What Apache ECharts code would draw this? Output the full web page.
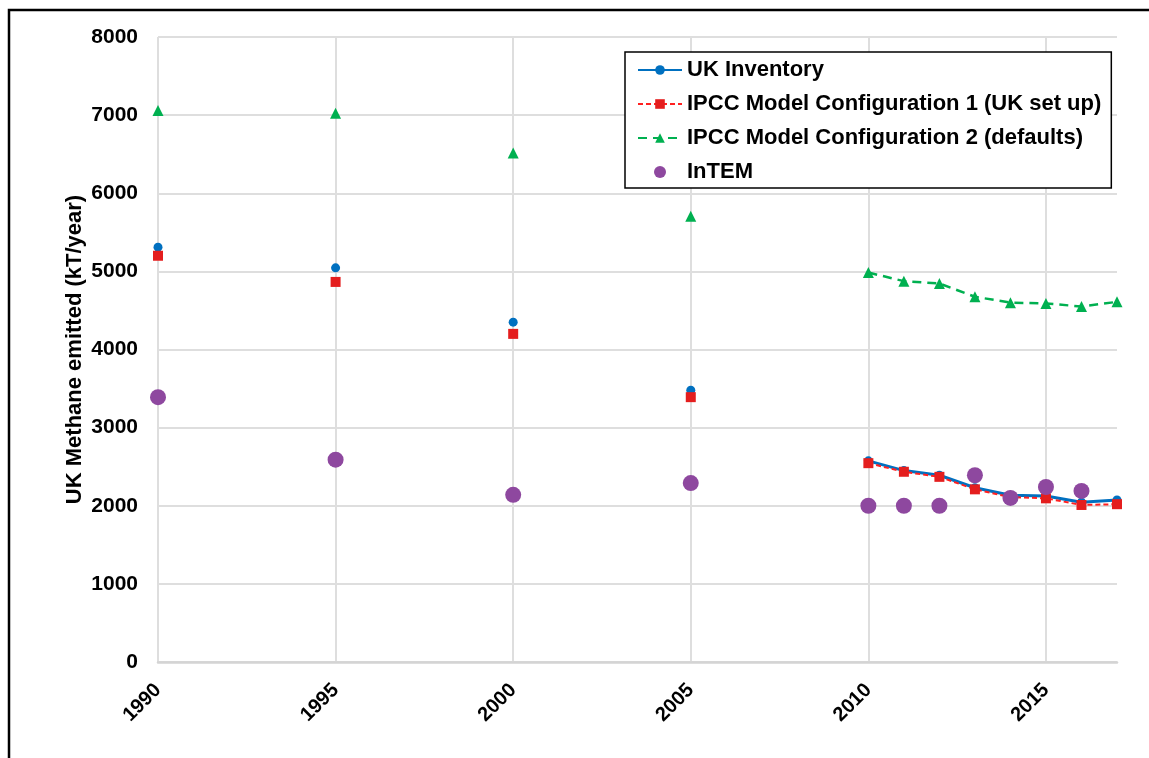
<!DOCTYPE html>
<html>
<head>
<meta charset="utf-8">
<script src="https://cdn.jsdelivr.net/npm/echarts@6/dist/echarts.min.js"></script>
<style>
  html, body { margin: 0; padding: 0; background: #fff; }
  #chart { width: 1149px; height: 758px; }
</style>
</head>
<body>
<div id="chart"></div>
<script>
// Years with reported values (gaps between them are not joined by lines)
const years = [1990, 1995, 2000, 2005, 2010, 2011, 2012, 2013, 2014, 2015, 2016, 2017];

// UK methane emissions, kT/year
const ukInventory = [5310, 5045, 4350, 3480, 2575, 2450, 2390, 2230, 2135, 2125, 2045, 2075];
const ipccConfig1 = [5200, 4865, 4200, 3390, 2545, 2435, 2370, 2210, 2110, 2095, 2010, 2020];
const ipccConfig2 = [7060, 7025, 6515, 5705, 4985, 4875, 4845, 4675, 4600, 4590, 4550, 4610];
const intemYears  = [1990, 1995, 2000, 2005, 2010, 2011, 2012, 2013, 2014, 2015, 2016];
const intem       = [3390, 2590, 2140, 2290, 2000, 2000, 2000, 2390, 2100, 2240, 2190];

const seriesNames = [
  'UK Inventory',
  'IPCC Model Configuration 1 (UK set up)',
  'IPCC Model Configuration 2 (defaults)',
  'InTEM'
];
const yTicks = { min: 0, max: 8000, interval: 1000 };
const xTicks = { min: 1990, max: 2017, interval: 5 };

// Pair years with values, inserting a break wherever a year is skipped
function withBreaks(xs, vs) {
  const out = [];
  xs.forEach((x, i) => {
    if (i > 0 && x - xs[i - 1] > 1) out.push('-');
    out.push([x, vs[i]]);
  });
  return out;
}

const FONT = '"Liberation Sans", Arial, sans-serif';
const chart = echarts.init(document.getElementById('chart'), null, { renderer: 'canvas' });

chart.setOption({
  animation: false,
  backgroundColor: '#ffffff',
  graphic: [{
    type: 'rect',
    shape: { x: 9, y: 10, width: 1200, height: 800 },
    style: { fill: 'none', stroke: '#000000', lineWidth: 2.5 },
    silent: true
  }],
  grid: { left: 158, top: 37, right: 32, bottom: 96 },
  legend: {
    orient: 'vertical',
    left: 625,
    top: 52,
    padding: [7, 10, 5, 12],
    itemGap: 12,
    itemWidth: 44,
    itemHeight: 12,
    borderColor: '#000000',
    borderWidth: 1.5,
    backgroundColor: '#ffffff',
    textStyle: { fontFamily: FONT, fontWeight: 'bold', fontSize: 22, color: '#000000' },
    data: seriesNames
  },
  xAxis: {
    type: 'value',
    min: xTicks.min,
    max: xTicks.max,
    interval: xTicks.interval,
    axisLine: { show: true, lineStyle: { color: '#d4d4d4', width: 2.5 } },
    axisTick: { show: false },
    splitLine: { show: true, showMaxLine: false, lineStyle: { color: '#dedede', width: 2 } },
    axisLabel: {
      rotate: 45,
      margin: 25,
      showMaxLabel: false,
      fontFamily: FONT,
      fontWeight: 'bold',
      fontSize: 20,
      color: '#000000',
      formatter: v => String(v)
    }
  },
  yAxis: {
    type: 'value',
    min: yTicks.min,
    max: yTicks.max,
    interval: yTicks.interval,
    name: 'UK Methane emitted (kT/year)',
    nameLocation: 'middle',
    nameMoveOverlap: false,
    nameGap: 72,
    nameTextStyle: { fontFamily: FONT, fontWeight: 'bold', fontSize: 22, color: '#000000' },
    axisLine: { show: false },
    axisTick: { show: false },
    splitLine: { show: true, lineStyle: { color: '#dedede', width: 2 } },
    axisLabel: {
      margin: 20,
      fontFamily: FONT,
      fontWeight: 'bold',
      fontSize: 21,
      color: '#000000',
      formatter: v => String(v)
    }
  },
  series: [
    {
      name: seriesNames[0],
      type: 'line',
      data: withBreaks(years, ukInventory),
      connectNulls: false,
      symbol: 'circle',
      symbolSize: 9,
      showAllSymbol: true,
      itemStyle: { color: '#0070c0' },
      lineStyle: { color: '#0070c0', width: 3 },
      z: 3
    },
    {
      name: seriesNames[1],
      type: 'line',
      data: withBreaks(years, ipccConfig1),
      connectNulls: false,
      symbol: 'rect',
      symbolSize: 10,
      showAllSymbol: true,
      itemStyle: { color: '#e41e1e' },
      lineStyle: { color: '#ff2020', width: 2, type: [5, 3] },
      z: 4
    },
    {
      name: seriesNames[2],
      type: 'line',
      data: withBreaks(years, ipccConfig2),
      connectNulls: false,
      symbol: 'triangle',
      symbolSize: 11,
      showAllSymbol: true,
      itemStyle: { color: '#00b050' },
      lineStyle: { color: '#00b050', width: 2.5, type: [9, 6] },
      z: 3
    },
    {
      name: seriesNames[3],
      type: 'scatter',
      data: intemYears.map((y, i) => [y, intem[i]]),
      symbol: 'circle',
      symbolSize: 16,
      itemStyle: { color: '#8e489f', opacity: 1 },
      z: 5
    }
  ]
});
</script>
</body>
</html>
